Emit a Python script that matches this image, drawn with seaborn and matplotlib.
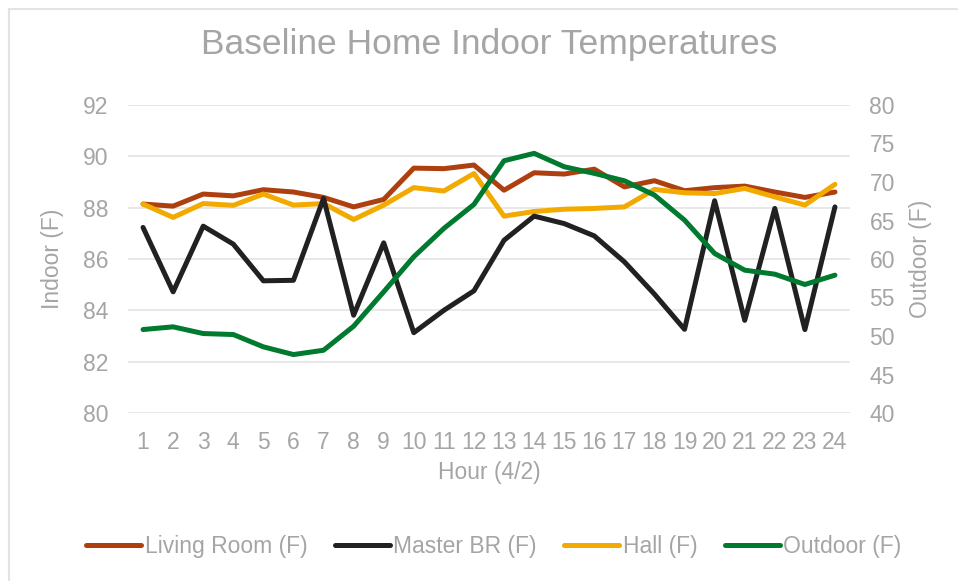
import pandas as pd
import matplotlib.pyplot as plt
import seaborn as sns
from matplotlib.lines import Line2D
from matplotlib.patches import Rectangle

# ---------------------------------------------------------
# DATA
# ---------------------------------------------------------

hours = list(range(1, 25))

living_room = [88.14, 88.06, 88.53, 88.46, 88.70, 88.61, 88.40, 88.03, 88.32, 89.54,
               89.52, 89.66, 88.68, 89.36, 89.31, 89.50, 88.81, 89.05, 88.66, 88.78,
               88.84, 88.61, 88.40, 88.61]
master_br = [87.23, 84.72, 87.28, 86.58, 85.15, 85.17, 88.36, 83.81, 86.63, 83.13,
             84.00, 84.76, 86.73, 87.67, 87.38, 86.90, 85.89, 84.63, 83.26, 88.27,
             83.61, 87.97, 83.25, 88.03]
hall = [88.14, 87.62, 88.16, 88.09, 88.53, 88.10, 88.16, 87.54, 88.10, 88.78,
        88.65, 89.33, 87.67, 87.85, 87.94, 87.97, 88.03, 88.71, 88.58, 88.55,
        88.75, 88.42, 88.10, 88.91]
outdoor = [50.84, 51.19, 50.32, 50.19, 48.59, 47.59, 48.15, 51.27, 55.74, 60.29,
           63.97, 67.09, 72.76, 73.72, 71.98, 71.12, 70.16, 68.30, 65.05, 60.72,
           58.55, 58.03, 56.69, 57.90]

indoor_ticks = [80, 82, 84, 86, 88, 90, 92]
outdoor_ticks = [40, 45, 50, 55, 60, 65, 70, 75, 80]

COLORS = {
    "Living Room (F)": "#AE400F",
    "Master BR (F)": "#212121",
    "Hall (F)": "#F2AA00",
    "Outdoor (F)": "#007A2F",
}
GRAY = "#A5A5A5"
LW = 3.6
FS = 16.5

# ---------------------------------------------------------
# STYLE
# ---------------------------------------------------------

sns.set_style("white")
plt.rcParams["font.family"] = ["Liberation Sans", "DejaVu Sans"]

# hall before master BR so the black line sits on top, like the reference
indoor_df = pd.DataFrame({
    "Hour": hours * 3,
    "Temp": living_room + hall + master_br,
    "Series": (["Living Room (F)"] * 24 + ["Hall (F)"] * 24 + ["Master BR (F)"] * 24),
})
outdoor_df = pd.DataFrame({"Hour": hours, "Temp": outdoor})

fig = plt.figure(figsize=(9.58, 5.81), dpi=100)
ax = fig.add_axes([128 / 958, 1 - 413 / 581, 722 / 958, 308 / 581])
ax2 = ax.twinx()

sns.lineplot(data=indoor_df, x="Hour", y="Temp", hue="Series", palette=COLORS,
             linewidth=LW, legend=False, ax=ax)
sns.lineplot(data=outdoor_df, x="Hour", y="Temp", color=COLORS["Outdoor (F)"],
             linewidth=LW, legend=False, ax=ax2)

for line in ax.get_lines() + ax2.get_lines():
    line.set_solid_joinstyle("round")
    line.set_solid_capstyle("round")

ax.set_xlim(0.5, 24.5)
ax.set_ylim(80, 92)
ax2.set_ylim(40, 80)
ax.set_xticks(hours)
ax.set_yticks(indoor_ticks)
ax2.set_yticks(outdoor_ticks)

ax.yaxis.grid(True, color="#E6E6E6", linewidth=1.3)
ax.set_axisbelow(True)
for a in (ax, ax2):
    for s in a.spines.values():
        s.set_visible(False)

ax.tick_params(axis="x", length=0, pad=13, labelsize=FS, labelcolor=GRAY)
ax.tick_params(axis="y", length=0, pad=14, labelsize=FS, labelcolor=GRAY)
ax2.tick_params(axis="y", length=0, pad=14, labelsize=FS, labelcolor=GRAY)

ax.set_xlabel("Hour (4/2)", fontsize=FS, color=GRAY, labelpad=5)
ax.set_ylabel("Indoor (F)", fontsize=FS, color=GRAY)
ax2.set_ylabel("Outdoor (F)", fontsize=FS, color=GRAY)
ax.yaxis.set_label_coords(-0.088, 0.5)
ax2.yaxis.set_label_coords(1.082, 0.5)

fig.text(489 / 958, 1 - 54 / 581, "Baseline Home Indoor Temperatures",
         ha="center", va="baseline", fontsize=25.5, color=GRAY)

handles = [Line2D([0], [0], color=c, linewidth=LW, solid_capstyle="round")
           for c in COLORS.values()]
leg = fig.legend(handles, list(COLORS.keys()), loc="center",
                 bbox_to_anchor=(494 / 958, 1 - 547 / 581), ncol=4, frameon=False,
                 fontsize=FS, handlelength=2.4, handletextpad=0.15, columnspacing=1.2)
for t in leg.get_texts():
    t.set_color(GRAY)

# light chart-area border (only left and top edges fall inside the picture)
fig.patches.append(Rectangle((8.5 / 958, -0.1), 1.2, 1 - 9 / 581 + 0.1,
                             transform=fig.transFigure, fill=False,
                             edgecolor="#E3E3E3", linewidth=1.5))

fig.savefig("out.png", dpi=100)
